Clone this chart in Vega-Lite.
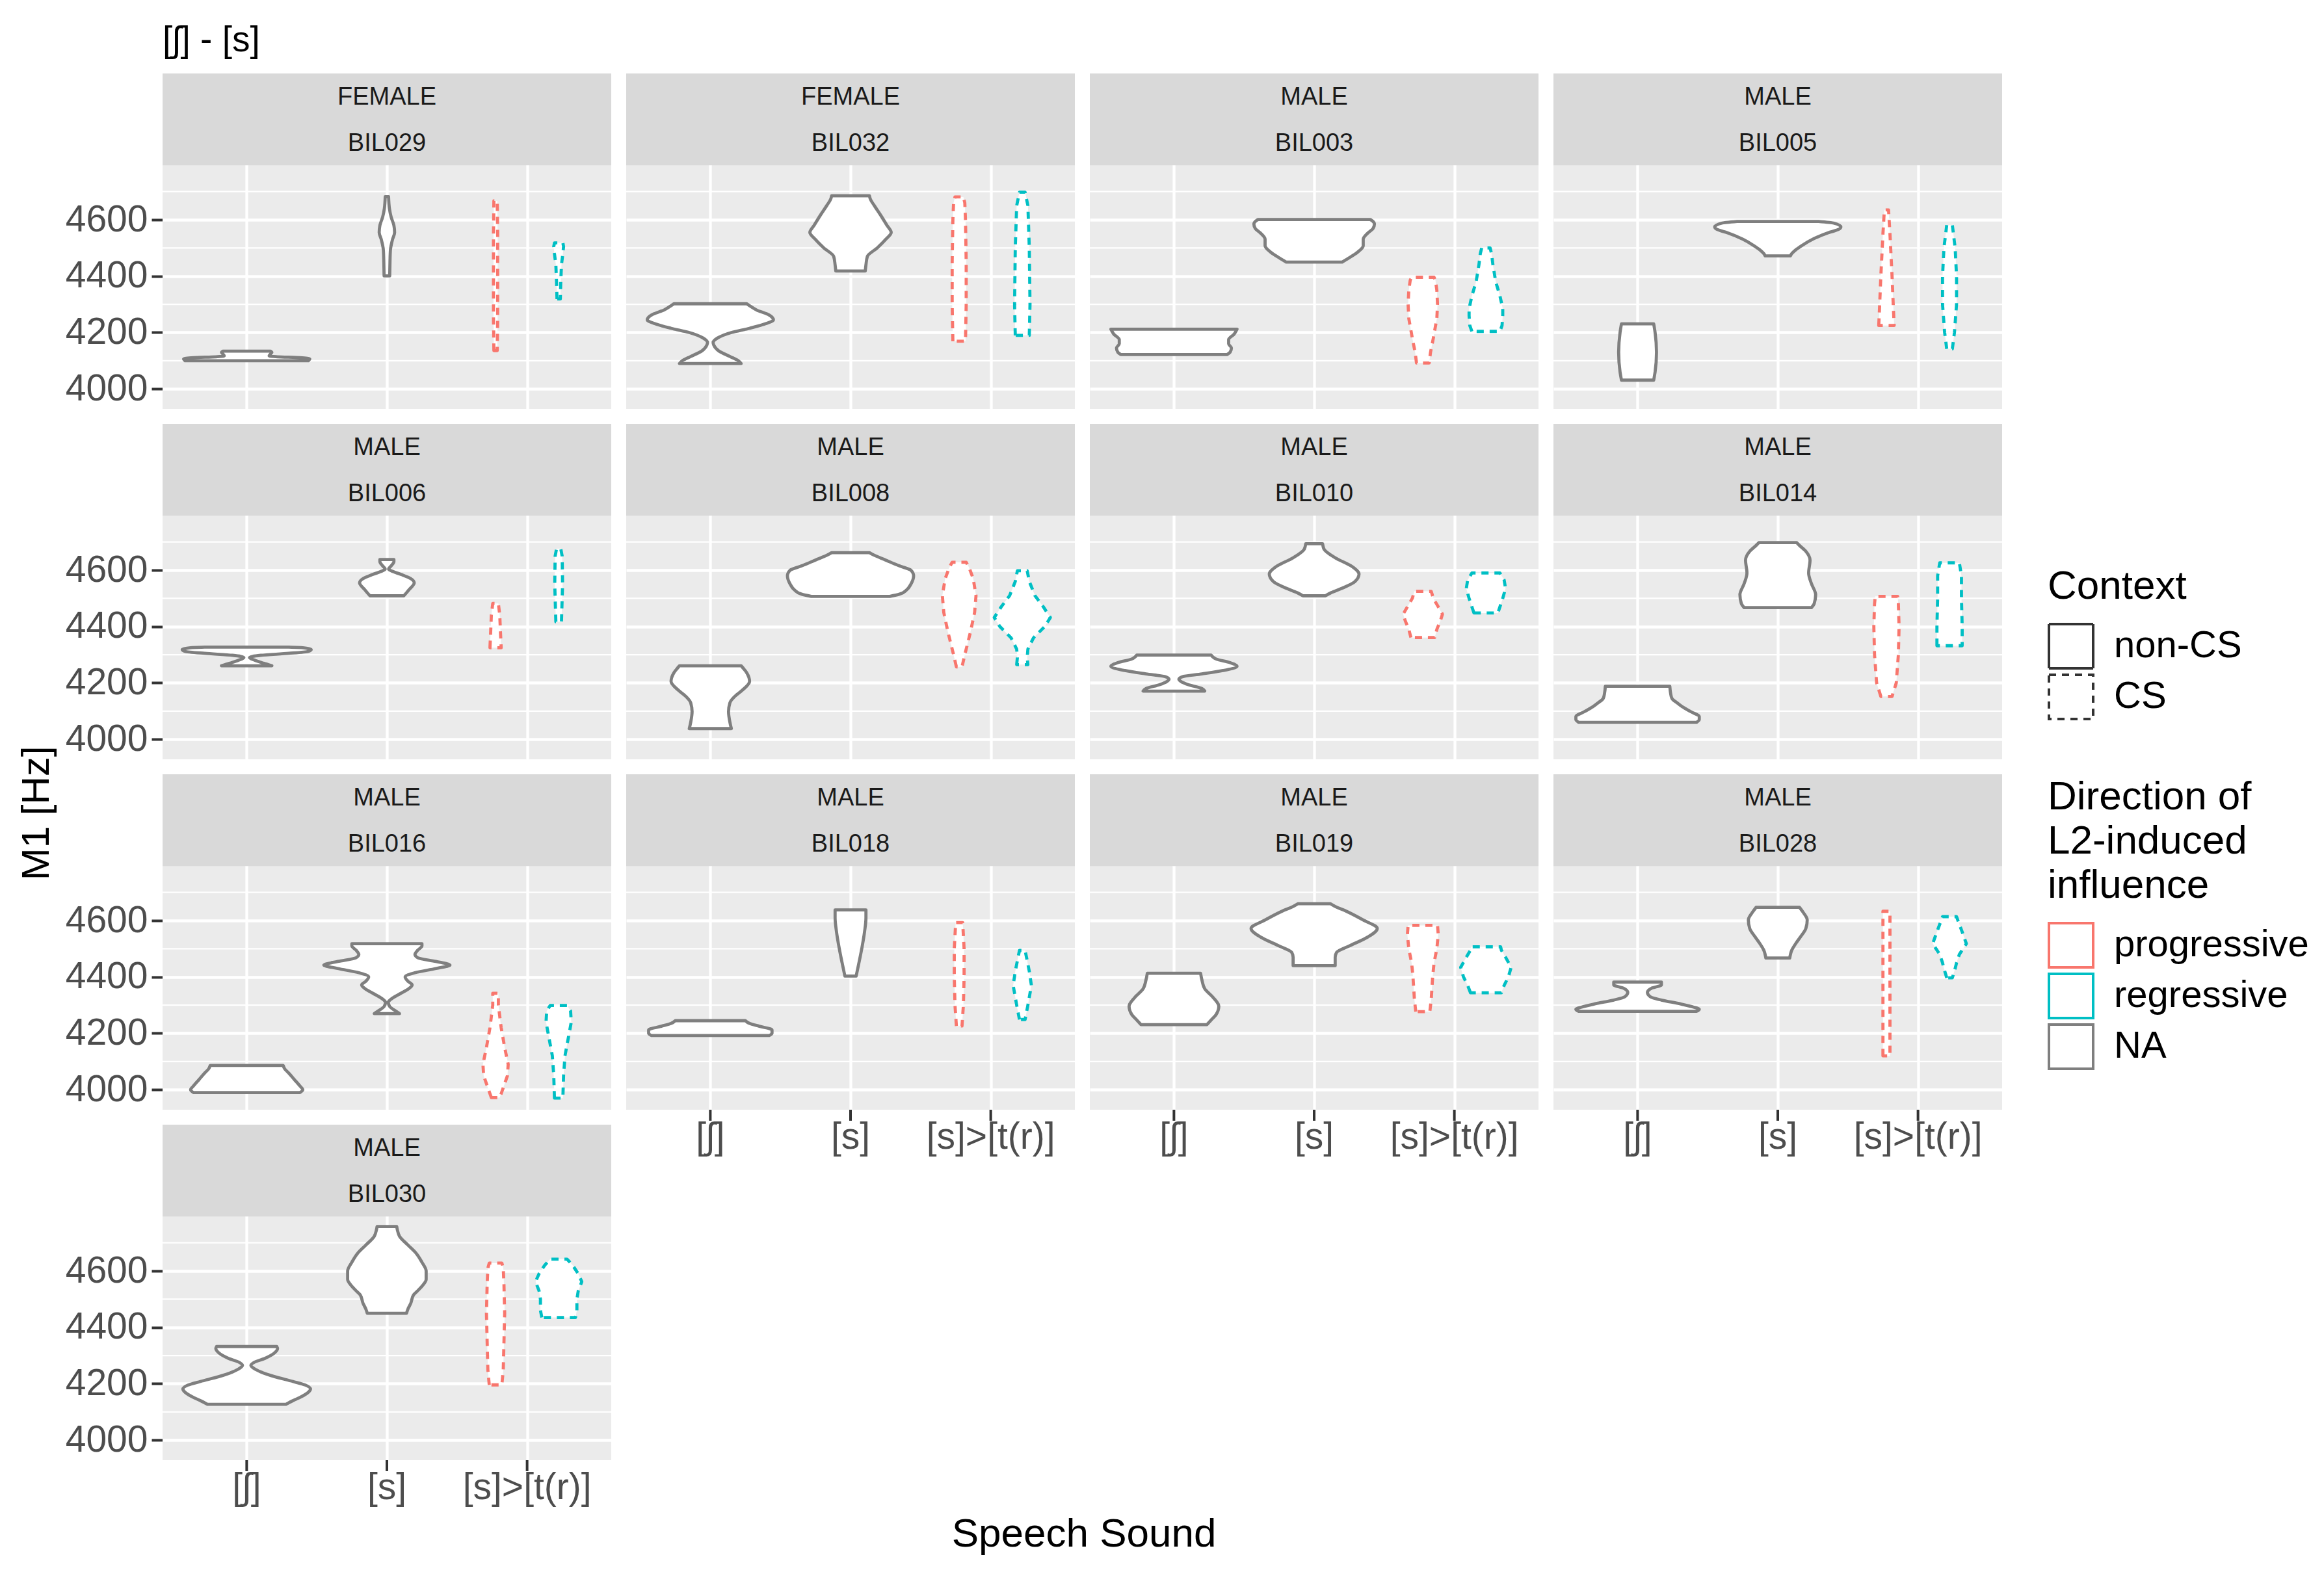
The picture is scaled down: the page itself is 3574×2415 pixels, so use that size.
{
"$schema":"https://vega.github.io/schema/vega-lite/v6.json",
"padding":{"left":27,"top":35,"right":5,"bottom":5},
"title":{"text":"Speech Sound","orient":"bottom","anchor":"middle","fontSize":62,"fontWeight":"normal","color":"black","offset":13,"dx":-122},
"data":{"values":[
{"k":"strip","s":"BIL029","g":"FEMALE"},{"k":"strip","s":"BIL032","g":"FEMALE"},{"k":"strip","s":"BIL003","g":"MALE"},{"k":"strip","s":"BIL005","g":"MALE"},{"k":"strip","s":"BIL006","g":"MALE"},{"k":"strip","s":"BIL008","g":"MALE"},{"k":"strip","s":"BIL010","g":"MALE"},{"k":"strip","s":"BIL014","g":"MALE"},{"k":"strip","s":"BIL016","g":"MALE"},{"k":"strip","s":"BIL018","g":"MALE"},{"k":"strip","s":"BIL019","g":"MALE"},{"k":"strip","s":"BIL028","g":"MALE"},{"k":"strip","s":"BIL030","g":"MALE"},
{"k":"ax","s":"BIL018","t":1,"lab":"[ʃ]"},{"k":"ax","s":"BIL018","t":2,"lab":"[s]"},{"k":"ax","s":"BIL018","t":3,"lab":"[s]>[t(r)]"},
{"k":"ax","s":"BIL019","t":1,"lab":"[ʃ]"},{"k":"ax","s":"BIL019","t":2,"lab":"[s]"},{"k":"ax","s":"BIL019","t":3,"lab":"[s]>[t(r)]"},
{"k":"ax","s":"BIL028","t":1,"lab":"[ʃ]"},{"k":"ax","s":"BIL028","t":2,"lab":"[s]"},{"k":"ax","s":"BIL028","t":3,"lab":"[s]>[t(r)]"},
{"k":"ax","s":"BIL030","t":1,"lab":"[ʃ]"},{"k":"ax","s":"BIL030","t":2,"lab":"[s]"},{"k":"ax","s":"BIL030","t":3,"lab":"[s]>[t(r)]"},
{"k":"v","s":"BIL029","p":"[ʃ]","d":"NA","c":"non-CS","y":4100,"w":0.44},
{"k":"v","s":"BIL029","p":"[ʃ]","d":"NA","c":"non-CS","y":4106,"w":0.45},
{"k":"v","s":"BIL029","p":"[ʃ]","d":"NA","c":"non-CS","y":4111,"w":0.38},
{"k":"v","s":"BIL029","p":"[ʃ]","d":"NA","c":"non-CS","y":4114,"w":0.22},
{"k":"v","s":"BIL029","p":"[ʃ]","d":"NA","c":"non-CS","y":4117,"w":0.16},
{"k":"v","s":"BIL029","p":"[ʃ]","d":"NA","c":"non-CS","y":4124,"w":0.17},
{"k":"v","s":"BIL029","p":"[ʃ]","d":"NA","c":"non-CS","y":4130,"w":0.18},
{"k":"v","s":"BIL029","p":"[ʃ]","d":"NA","c":"non-CS","y":4134,"w":0.17},
{"k":"v","s":"BIL029","p":"[s]","d":"NA","c":"non-CS","y":4401,"w":0.02},
{"k":"v","s":"BIL029","p":"[s]","d":"NA","c":"non-CS","y":4450,"w":0.022},
{"k":"v","s":"BIL029","p":"[s]","d":"NA","c":"non-CS","y":4492,"w":0.025},
{"k":"v","s":"BIL029","p":"[s]","d":"NA","c":"non-CS","y":4530,"w":0.04},
{"k":"v","s":"BIL029","p":"[s]","d":"NA","c":"non-CS","y":4555,"w":0.055},
{"k":"v","s":"BIL029","p":"[s]","d":"NA","c":"non-CS","y":4580,"w":0.05},
{"k":"v","s":"BIL029","p":"[s]","d":"NA","c":"non-CS","y":4610,"w":0.03},
{"k":"v","s":"BIL029","p":"[s]","d":"NA","c":"non-CS","y":4640,"w":0.018},
{"k":"v","s":"BIL029","p":"[s]","d":"NA","c":"non-CS","y":4682,"w":0.012},
{"k":"v","s":"BIL029","p":"[s]>[t(r)]","d":"progressive","c":"CS","y":4136,"w":0.012},
{"k":"v","s":"BIL029","p":"[s]>[t(r)]","d":"progressive","c":"CS","y":4250,"w":0.015},
{"k":"v","s":"BIL029","p":"[s]>[t(r)]","d":"progressive","c":"CS","y":4400,"w":0.015},
{"k":"v","s":"BIL029","p":"[s]>[t(r)]","d":"progressive","c":"CS","y":4550,"w":0.015},
{"k":"v","s":"BIL029","p":"[s]>[t(r)]","d":"progressive","c":"CS","y":4667,"w":0.012},
{"k":"v","s":"BIL029","p":"[s]>[t(r)]","d":"regressive","c":"CS","y":4319,"w":0.012},
{"k":"v","s":"BIL029","p":"[s]>[t(r)]","d":"regressive","c":"CS","y":4380,"w":0.015},
{"k":"v","s":"BIL029","p":"[s]>[t(r)]","d":"regressive","c":"CS","y":4440,"w":0.02},
{"k":"v","s":"BIL029","p":"[s]>[t(r)]","d":"regressive","c":"CS","y":4480,"w":0.03},
{"k":"v","s":"BIL029","p":"[s]>[t(r)]","d":"regressive","c":"CS","y":4505,"w":0.035},
{"k":"v","s":"BIL029","p":"[s]>[t(r)]","d":"regressive","c":"CS","y":4518,"w":0.03},
{"k":"v","s":"BIL032","p":"[ʃ]","d":"NA","c":"non-CS","y":4090,"w":0.22},
{"k":"v","s":"BIL032","p":"[ʃ]","d":"NA","c":"non-CS","y":4100,"w":0.2},
{"k":"v","s":"BIL032","p":"[ʃ]","d":"NA","c":"non-CS","y":4115,"w":0.14},
{"k":"v","s":"BIL032","p":"[ʃ]","d":"NA","c":"non-CS","y":4135,"w":0.06},
{"k":"v","s":"BIL032","p":"[ʃ]","d":"NA","c":"non-CS","y":4155,"w":0.025},
{"k":"v","s":"BIL032","p":"[ʃ]","d":"NA","c":"non-CS","y":4165,"w":0.02},
{"k":"v","s":"BIL032","p":"[ʃ]","d":"NA","c":"non-CS","y":4180,"w":0.05},
{"k":"v","s":"BIL032","p":"[ʃ]","d":"NA","c":"non-CS","y":4200,"w":0.15},
{"k":"v","s":"BIL032","p":"[ʃ]","d":"NA","c":"non-CS","y":4215,"w":0.28},
{"k":"v","s":"BIL032","p":"[ʃ]","d":"NA","c":"non-CS","y":4232,"w":0.4},
{"k":"v","s":"BIL032","p":"[ʃ]","d":"NA","c":"non-CS","y":4245,"w":0.45},
{"k":"v","s":"BIL032","p":"[ʃ]","d":"NA","c":"non-CS","y":4262,"w":0.42},
{"k":"v","s":"BIL032","p":"[ʃ]","d":"NA","c":"non-CS","y":4280,"w":0.33},
{"k":"v","s":"BIL032","p":"[ʃ]","d":"NA","c":"non-CS","y":4295,"w":0.28},
{"k":"v","s":"BIL032","p":"[ʃ]","d":"NA","c":"non-CS","y":4302,"w":0.26},
{"k":"v","s":"BIL032","p":"[s]","d":"NA","c":"non-CS","y":4418,"w":0.105},
{"k":"v","s":"BIL032","p":"[s]","d":"NA","c":"non-CS","y":4440,"w":0.11},
{"k":"v","s":"BIL032","p":"[s]","d":"NA","c":"non-CS","y":4470,"w":0.12},
{"k":"v","s":"BIL032","p":"[s]","d":"NA","c":"non-CS","y":4500,"w":0.19},
{"k":"v","s":"BIL032","p":"[s]","d":"NA","c":"non-CS","y":4530,"w":0.25},
{"k":"v","s":"BIL032","p":"[s]","d":"NA","c":"non-CS","y":4555,"w":0.29},
{"k":"v","s":"BIL032","p":"[s]","d":"NA","c":"non-CS","y":4580,"w":0.26},
{"k":"v","s":"BIL032","p":"[s]","d":"NA","c":"non-CS","y":4620,"w":0.21},
{"k":"v","s":"BIL032","p":"[s]","d":"NA","c":"non-CS","y":4650,"w":0.17},
{"k":"v","s":"BIL032","p":"[s]","d":"NA","c":"non-CS","y":4675,"w":0.14},
{"k":"v","s":"BIL032","p":"[s]","d":"NA","c":"non-CS","y":4685,"w":0.135},
{"k":"v","s":"BIL032","p":"[s]>[t(r)]","d":"progressive","c":"CS","y":4169,"w":0.045},
{"k":"v","s":"BIL032","p":"[s]>[t(r)]","d":"progressive","c":"CS","y":4300,"w":0.05},
{"k":"v","s":"BIL032","p":"[s]>[t(r)]","d":"progressive","c":"CS","y":4450,"w":0.05},
{"k":"v","s":"BIL032","p":"[s]>[t(r)]","d":"progressive","c":"CS","y":4600,"w":0.045},
{"k":"v","s":"BIL032","p":"[s]>[t(r)]","d":"progressive","c":"CS","y":4660,"w":0.04},
{"k":"v","s":"BIL032","p":"[s]>[t(r)]","d":"progressive","c":"CS","y":4681,"w":0.03},
{"k":"v","s":"BIL032","p":"[s]>[t(r)]","d":"regressive","c":"CS","y":4190,"w":0.05},
{"k":"v","s":"BIL032","p":"[s]>[t(r)]","d":"regressive","c":"CS","y":4300,"w":0.055},
{"k":"v","s":"BIL032","p":"[s]>[t(r)]","d":"regressive","c":"CS","y":4500,"w":0.05},
{"k":"v","s":"BIL032","p":"[s]>[t(r)]","d":"regressive","c":"CS","y":4650,"w":0.04},
{"k":"v","s":"BIL032","p":"[s]>[t(r)]","d":"regressive","c":"CS","y":4698,"w":0.02},
{"k":"v","s":"BIL003","p":"[ʃ]","d":"NA","c":"non-CS","y":4122,"w":0.38},
{"k":"v","s":"BIL003","p":"[ʃ]","d":"NA","c":"non-CS","y":4130,"w":0.4},
{"k":"v","s":"BIL003","p":"[ʃ]","d":"NA","c":"non-CS","y":4145,"w":0.41},
{"k":"v","s":"BIL003","p":"[ʃ]","d":"NA","c":"non-CS","y":4160,"w":0.39},
{"k":"v","s":"BIL003","p":"[ʃ]","d":"NA","c":"non-CS","y":4175,"w":0.39},
{"k":"v","s":"BIL003","p":"[ʃ]","d":"NA","c":"non-CS","y":4195,"w":0.43},
{"k":"v","s":"BIL003","p":"[ʃ]","d":"NA","c":"non-CS","y":4212,"w":0.45},
{"k":"v","s":"BIL003","p":"[s]","d":"NA","c":"non-CS","y":4450,"w":0.2},
{"k":"v","s":"BIL003","p":"[s]","d":"NA","c":"non-CS","y":4465,"w":0.25},
{"k":"v","s":"BIL003","p":"[s]","d":"NA","c":"non-CS","y":4485,"w":0.31},
{"k":"v","s":"BIL003","p":"[s]","d":"NA","c":"non-CS","y":4508,"w":0.35},
{"k":"v","s":"BIL003","p":"[s]","d":"NA","c":"non-CS","y":4531,"w":0.35},
{"k":"v","s":"BIL003","p":"[s]","d":"NA","c":"non-CS","y":4554,"w":0.385},
{"k":"v","s":"BIL003","p":"[s]","d":"NA","c":"non-CS","y":4569,"w":0.42},
{"k":"v","s":"BIL003","p":"[s]","d":"NA","c":"non-CS","y":4585,"w":0.43},
{"k":"v","s":"BIL003","p":"[s]","d":"NA","c":"non-CS","y":4598,"w":0.41},
{"k":"v","s":"BIL003","p":"[s]","d":"NA","c":"non-CS","y":4601,"w":0.4},
{"k":"v","s":"BIL003","p":"[s]>[t(r)]","d":"progressive","c":"CS","y":4092,"w":0.045},
{"k":"v","s":"BIL003","p":"[s]>[t(r)]","d":"progressive","c":"CS","y":4130,"w":0.055},
{"k":"v","s":"BIL003","p":"[s]>[t(r)]","d":"progressive","c":"CS","y":4180,"w":0.075},
{"k":"v","s":"BIL003","p":"[s]>[t(r)]","d":"progressive","c":"CS","y":4250,"w":0.1},
{"k":"v","s":"BIL003","p":"[s]>[t(r)]","d":"progressive","c":"CS","y":4300,"w":0.105},
{"k":"v","s":"BIL003","p":"[s]>[t(r)]","d":"progressive","c":"CS","y":4350,"w":0.1},
{"k":"v","s":"BIL003","p":"[s]>[t(r)]","d":"progressive","c":"CS","y":4385,"w":0.09},
{"k":"v","s":"BIL003","p":"[s]>[t(r)]","d":"progressive","c":"CS","y":4396,"w":0.08},
{"k":"v","s":"BIL003","p":"[s]>[t(r)]","d":"regressive","c":"CS","y":4204,"w":0.1},
{"k":"v","s":"BIL003","p":"[s]>[t(r)]","d":"regressive","c":"CS","y":4225,"w":0.115},
{"k":"v","s":"BIL003","p":"[s]>[t(r)]","d":"regressive","c":"CS","y":4260,"w":0.12},
{"k":"v","s":"BIL003","p":"[s]>[t(r)]","d":"regressive","c":"CS","y":4285,"w":0.12},
{"k":"v","s":"BIL003","p":"[s]>[t(r)]","d":"regressive","c":"CS","y":4330,"w":0.1},
{"k":"v","s":"BIL003","p":"[s]>[t(r)]","d":"regressive","c":"CS","y":4380,"w":0.07},
{"k":"v","s":"BIL003","p":"[s]>[t(r)]","d":"regressive","c":"CS","y":4440,"w":0.05},
{"k":"v","s":"BIL003","p":"[s]>[t(r)]","d":"regressive","c":"CS","y":4480,"w":0.04},
{"k":"v","s":"BIL003","p":"[s]>[t(r)]","d":"regressive","c":"CS","y":4500,"w":0.03},
{"k":"v","s":"BIL005","p":"[ʃ]","d":"NA","c":"non-CS","y":4031,"w":0.115},
{"k":"v","s":"BIL005","p":"[ʃ]","d":"NA","c":"non-CS","y":4060,"w":0.125},
{"k":"v","s":"BIL005","p":"[ʃ]","d":"NA","c":"non-CS","y":4130,"w":0.135},
{"k":"v","s":"BIL005","p":"[ʃ]","d":"NA","c":"non-CS","y":4200,"w":0.125},
{"k":"v","s":"BIL005","p":"[ʃ]","d":"NA","c":"non-CS","y":4231,"w":0.115},
{"k":"v","s":"BIL005","p":"[s]","d":"NA","c":"non-CS","y":4472,"w":0.09},
{"k":"v","s":"BIL005","p":"[s]","d":"NA","c":"non-CS","y":4480,"w":0.1},
{"k":"v","s":"BIL005","p":"[s]","d":"NA","c":"non-CS","y":4492,"w":0.125},
{"k":"v","s":"BIL005","p":"[s]","d":"NA","c":"non-CS","y":4508,"w":0.17},
{"k":"v","s":"BIL005","p":"[s]","d":"NA","c":"non-CS","y":4531,"w":0.25},
{"k":"v","s":"BIL005","p":"[s]","d":"NA","c":"non-CS","y":4554,"w":0.36},
{"k":"v","s":"BIL005","p":"[s]","d":"NA","c":"non-CS","y":4565,"w":0.43},
{"k":"v","s":"BIL005","p":"[s]","d":"NA","c":"non-CS","y":4575,"w":0.45},
{"k":"v","s":"BIL005","p":"[s]","d":"NA","c":"non-CS","y":4588,"w":0.4},
{"k":"v","s":"BIL005","p":"[s]","d":"NA","c":"non-CS","y":4594,"w":0.29},
{"k":"v","s":"BIL005","p":"[s]>[t(r)]","d":"progressive","c":"CS","y":4225,"w":0.055},
{"k":"v","s":"BIL005","p":"[s]>[t(r)]","d":"progressive","c":"CS","y":4280,"w":0.05},
{"k":"v","s":"BIL005","p":"[s]>[t(r)]","d":"progressive","c":"CS","y":4400,"w":0.04},
{"k":"v","s":"BIL005","p":"[s]>[t(r)]","d":"progressive","c":"CS","y":4550,"w":0.025},
{"k":"v","s":"BIL005","p":"[s]>[t(r)]","d":"progressive","c":"CS","y":4635,"w":0.015},
{"k":"v","s":"BIL005","p":"[s]>[t(r)]","d":"regressive","c":"CS","y":4142,"w":0.02},
{"k":"v","s":"BIL005","p":"[s]>[t(r)]","d":"regressive","c":"CS","y":4200,"w":0.035},
{"k":"v","s":"BIL005","p":"[s]>[t(r)]","d":"regressive","c":"CS","y":4300,"w":0.05},
{"k":"v","s":"BIL005","p":"[s]>[t(r)]","d":"regressive","c":"CS","y":4400,"w":0.05},
{"k":"v","s":"BIL005","p":"[s]>[t(r)]","d":"regressive","c":"CS","y":4500,"w":0.04},
{"k":"v","s":"BIL005","p":"[s]>[t(r)]","d":"regressive","c":"CS","y":4581,"w":0.02},
{"k":"v","s":"BIL006","p":"[ʃ]","d":"NA","c":"non-CS","y":4261,"w":0.18},
{"k":"v","s":"BIL006","p":"[ʃ]","d":"NA","c":"non-CS","y":4270,"w":0.12},
{"k":"v","s":"BIL006","p":"[ʃ]","d":"NA","c":"non-CS","y":4280,"w":0.06},
{"k":"v","s":"BIL006","p":"[ʃ]","d":"NA","c":"non-CS","y":4290,"w":0.02},
{"k":"v","s":"BIL006","p":"[ʃ]","d":"NA","c":"non-CS","y":4298,"w":0.1},
{"k":"v","s":"BIL006","p":"[ʃ]","d":"NA","c":"non-CS","y":4305,"w":0.3},
{"k":"v","s":"BIL006","p":"[ʃ]","d":"NA","c":"non-CS","y":4312,"w":0.44},
{"k":"v","s":"BIL006","p":"[ʃ]","d":"NA","c":"non-CS","y":4318,"w":0.46},
{"k":"v","s":"BIL006","p":"[ʃ]","d":"NA","c":"non-CS","y":4325,"w":0.4},
{"k":"v","s":"BIL006","p":"[ʃ]","d":"NA","c":"non-CS","y":4327,"w":0.3},
{"k":"v","s":"BIL006","p":"[s]","d":"NA","c":"non-CS","y":4509,"w":0.12},
{"k":"v","s":"BIL006","p":"[s]","d":"NA","c":"non-CS","y":4520,"w":0.14},
{"k":"v","s":"BIL006","p":"[s]","d":"NA","c":"non-CS","y":4532,"w":0.16},
{"k":"v","s":"BIL006","p":"[s]","d":"NA","c":"non-CS","y":4555,"w":0.195},
{"k":"v","s":"BIL006","p":"[s]","d":"NA","c":"non-CS","y":4570,"w":0.17},
{"k":"v","s":"BIL006","p":"[s]","d":"NA","c":"non-CS","y":4585,"w":0.1},
{"k":"v","s":"BIL006","p":"[s]","d":"NA","c":"non-CS","y":4598,"w":0.03},
{"k":"v","s":"BIL006","p":"[s]","d":"NA","c":"non-CS","y":4604,"w":0.012},
{"k":"v","s":"BIL006","p":"[s]","d":"NA","c":"non-CS","y":4615,"w":0.03},
{"k":"v","s":"BIL006","p":"[s]","d":"NA","c":"non-CS","y":4630,"w":0.05},
{"k":"v","s":"BIL006","p":"[s]","d":"NA","c":"non-CS","y":4638,"w":0.05},
{"k":"v","s":"BIL006","p":"[s]>[t(r)]","d":"progressive","c":"CS","y":4325,"w":0.04},
{"k":"v","s":"BIL006","p":"[s]>[t(r)]","d":"progressive","c":"CS","y":4380,"w":0.035},
{"k":"v","s":"BIL006","p":"[s]>[t(r)]","d":"progressive","c":"CS","y":4440,"w":0.03},
{"k":"v","s":"BIL006","p":"[s]>[t(r)]","d":"progressive","c":"CS","y":4482,"w":0.02},
{"k":"v","s":"BIL006","p":"[s]>[t(r)]","d":"regressive","c":"CS","y":4417,"w":0.02},
{"k":"v","s":"BIL006","p":"[s]>[t(r)]","d":"regressive","c":"CS","y":4550,"w":0.028},
{"k":"v","s":"BIL006","p":"[s]>[t(r)]","d":"regressive","c":"CS","y":4650,"w":0.025},
{"k":"v","s":"BIL006","p":"[s]>[t(r)]","d":"regressive","c":"CS","y":4676,"w":0.015},
{"k":"v","s":"BIL008","p":"[ʃ]","d":"NA","c":"non-CS","y":4038,"w":0.15},
{"k":"v","s":"BIL008","p":"[ʃ]","d":"NA","c":"non-CS","y":4060,"w":0.14},
{"k":"v","s":"BIL008","p":"[ʃ]","d":"NA","c":"non-CS","y":4098,"w":0.13},
{"k":"v","s":"BIL008","p":"[ʃ]","d":"NA","c":"non-CS","y":4130,"w":0.14},
{"k":"v","s":"BIL008","p":"[ʃ]","d":"NA","c":"non-CS","y":4150,"w":0.17},
{"k":"v","s":"BIL008","p":"[ʃ]","d":"NA","c":"non-CS","y":4175,"w":0.23},
{"k":"v","s":"BIL008","p":"[ʃ]","d":"NA","c":"non-CS","y":4205,"w":0.28},
{"k":"v","s":"BIL008","p":"[ʃ]","d":"NA","c":"non-CS","y":4236,"w":0.26},
{"k":"v","s":"BIL008","p":"[ʃ]","d":"NA","c":"non-CS","y":4255,"w":0.23},
{"k":"v","s":"BIL008","p":"[ʃ]","d":"NA","c":"non-CS","y":4261,"w":0.22},
{"k":"v","s":"BIL008","p":"[s]","d":"NA","c":"non-CS","y":4507,"w":0.28},
{"k":"v","s":"BIL008","p":"[s]","d":"NA","c":"non-CS","y":4515,"w":0.35},
{"k":"v","s":"BIL008","p":"[s]","d":"NA","c":"non-CS","y":4530,"w":0.4},
{"k":"v","s":"BIL008","p":"[s]","d":"NA","c":"non-CS","y":4550,"w":0.43},
{"k":"v","s":"BIL008","p":"[s]","d":"NA","c":"non-CS","y":4580,"w":0.45},
{"k":"v","s":"BIL008","p":"[s]","d":"NA","c":"non-CS","y":4600,"w":0.43},
{"k":"v","s":"BIL008","p":"[s]","d":"NA","c":"non-CS","y":4615,"w":0.35},
{"k":"v","s":"BIL008","p":"[s]","d":"NA","c":"non-CS","y":4636,"w":0.25},
{"k":"v","s":"BIL008","p":"[s]","d":"NA","c":"non-CS","y":4655,"w":0.16},
{"k":"v","s":"BIL008","p":"[s]","d":"NA","c":"non-CS","y":4662,"w":0.135},
{"k":"v","s":"BIL008","p":"[s]>[t(r)]","d":"progressive","c":"CS","y":4257,"w":0.02},
{"k":"v","s":"BIL008","p":"[s]>[t(r)]","d":"progressive","c":"CS","y":4300,"w":0.04},
{"k":"v","s":"BIL008","p":"[s]>[t(r)]","d":"progressive","c":"CS","y":4380,"w":0.08},
{"k":"v","s":"BIL008","p":"[s]>[t(r)]","d":"progressive","c":"CS","y":4450,"w":0.11},
{"k":"v","s":"BIL008","p":"[s]>[t(r)]","d":"progressive","c":"CS","y":4510,"w":0.12},
{"k":"v","s":"BIL008","p":"[s]>[t(r)]","d":"progressive","c":"CS","y":4570,"w":0.1},
{"k":"v","s":"BIL008","p":"[s]>[t(r)]","d":"progressive","c":"CS","y":4610,"w":0.07},
{"k":"v","s":"BIL008","p":"[s]>[t(r)]","d":"progressive","c":"CS","y":4628,"w":0.05},
{"k":"v","s":"BIL008","p":"[s]>[t(r)]","d":"regressive","c":"CS","y":4265,"w":0.04},
{"k":"v","s":"BIL008","p":"[s]>[t(r)]","d":"regressive","c":"CS","y":4290,"w":0.035},
{"k":"v","s":"BIL008","p":"[s]>[t(r)]","d":"regressive","c":"CS","y":4320,"w":0.04},
{"k":"v","s":"BIL008","p":"[s]>[t(r)]","d":"regressive","c":"CS","y":4360,"w":0.08},
{"k":"v","s":"BIL008","p":"[s]>[t(r)]","d":"regressive","c":"CS","y":4400,"w":0.16},
{"k":"v","s":"BIL008","p":"[s]>[t(r)]","d":"regressive","c":"CS","y":4432,"w":0.2},
{"k":"v","s":"BIL008","p":"[s]>[t(r)]","d":"regressive","c":"CS","y":4470,"w":0.15},
{"k":"v","s":"BIL008","p":"[s]>[t(r)]","d":"regressive","c":"CS","y":4510,"w":0.09},
{"k":"v","s":"BIL008","p":"[s]>[t(r)]","d":"regressive","c":"CS","y":4560,"w":0.05},
{"k":"v","s":"BIL008","p":"[s]>[t(r)]","d":"regressive","c":"CS","y":4598,"w":0.035},
{"k":"v","s":"BIL010","p":"[ʃ]","d":"NA","c":"non-CS","y":4171,"w":0.22},
{"k":"v","s":"BIL010","p":"[ʃ]","d":"NA","c":"non-CS","y":4180,"w":0.2},
{"k":"v","s":"BIL010","p":"[ʃ]","d":"NA","c":"non-CS","y":4194,"w":0.1},
{"k":"v","s":"BIL010","p":"[ʃ]","d":"NA","c":"non-CS","y":4205,"w":0.05},
{"k":"v","s":"BIL010","p":"[ʃ]","d":"NA","c":"non-CS","y":4213,"w":0.035},
{"k":"v","s":"BIL010","p":"[ʃ]","d":"NA","c":"non-CS","y":4222,"w":0.06},
{"k":"v","s":"BIL010","p":"[ʃ]","d":"NA","c":"non-CS","y":4232,"w":0.2},
{"k":"v","s":"BIL010","p":"[ʃ]","d":"NA","c":"non-CS","y":4244,"w":0.35},
{"k":"v","s":"BIL010","p":"[ʃ]","d":"NA","c":"non-CS","y":4259,"w":0.45},
{"k":"v","s":"BIL010","p":"[ʃ]","d":"NA","c":"non-CS","y":4272,"w":0.4},
{"k":"v","s":"BIL010","p":"[ʃ]","d":"NA","c":"non-CS","y":4285,"w":0.3},
{"k":"v","s":"BIL010","p":"[ʃ]","d":"NA","c":"non-CS","y":4299,"w":0.265},
{"k":"v","s":"BIL010","p":"[s]","d":"NA","c":"non-CS","y":4509,"w":0.08},
{"k":"v","s":"BIL010","p":"[s]","d":"NA","c":"non-CS","y":4520,"w":0.12},
{"k":"v","s":"BIL010","p":"[s]","d":"NA","c":"non-CS","y":4536,"w":0.2},
{"k":"v","s":"BIL010","p":"[s]","d":"NA","c":"non-CS","y":4559,"w":0.29},
{"k":"v","s":"BIL010","p":"[s]","d":"NA","c":"non-CS","y":4586,"w":0.32},
{"k":"v","s":"BIL010","p":"[s]","d":"NA","c":"non-CS","y":4613,"w":0.27},
{"k":"v","s":"BIL010","p":"[s]","d":"NA","c":"non-CS","y":4644,"w":0.15},
{"k":"v","s":"BIL010","p":"[s]","d":"NA","c":"non-CS","y":4675,"w":0.07},
{"k":"v","s":"BIL010","p":"[s]","d":"NA","c":"non-CS","y":4694,"w":0.06},
{"k":"v","s":"BIL010","p":"[s]>[t(r)]","d":"progressive","c":"CS","y":4361,"w":0.085},
{"k":"v","s":"BIL010","p":"[s]>[t(r)]","d":"progressive","c":"CS","y":4390,"w":0.1},
{"k":"v","s":"BIL010","p":"[s]>[t(r)]","d":"progressive","c":"CS","y":4420,"w":0.125},
{"k":"v","s":"BIL010","p":"[s]>[t(r)]","d":"progressive","c":"CS","y":4444,"w":0.14},
{"k":"v","s":"BIL010","p":"[s]>[t(r)]","d":"progressive","c":"CS","y":4470,"w":0.11},
{"k":"v","s":"BIL010","p":"[s]>[t(r)]","d":"progressive","c":"CS","y":4500,"w":0.075},
{"k":"v","s":"BIL010","p":"[s]>[t(r)]","d":"progressive","c":"CS","y":4525,"w":0.06},
{"k":"v","s":"BIL010","p":"[s]>[t(r)]","d":"regressive","c":"CS","y":4448,"w":0.085},
{"k":"v","s":"BIL010","p":"[s]>[t(r)]","d":"regressive","c":"CS","y":4470,"w":0.1},
{"k":"v","s":"BIL010","p":"[s]>[t(r)]","d":"regressive","c":"CS","y":4500,"w":0.12},
{"k":"v","s":"BIL010","p":"[s]>[t(r)]","d":"regressive","c":"CS","y":4535,"w":0.14},
{"k":"v","s":"BIL010","p":"[s]>[t(r)]","d":"regressive","c":"CS","y":4565,"w":0.13},
{"k":"v","s":"BIL010","p":"[s]>[t(r)]","d":"regressive","c":"CS","y":4590,"w":0.1},
{"k":"v","s":"BIL014","p":"[ʃ]","d":"NA","c":"non-CS","y":4060,"w":0.42},
{"k":"v","s":"BIL014","p":"[ʃ]","d":"NA","c":"non-CS","y":4070,"w":0.44},
{"k":"v","s":"BIL014","p":"[ʃ]","d":"NA","c":"non-CS","y":4080,"w":0.44},
{"k":"v","s":"BIL014","p":"[ʃ]","d":"NA","c":"non-CS","y":4098,"w":0.38},
{"k":"v","s":"BIL014","p":"[ʃ]","d":"NA","c":"non-CS","y":4115,"w":0.32},
{"k":"v","s":"BIL014","p":"[ʃ]","d":"NA","c":"non-CS","y":4130,"w":0.28},
{"k":"v","s":"BIL014","p":"[ʃ]","d":"NA","c":"non-CS","y":4145,"w":0.245},
{"k":"v","s":"BIL014","p":"[ʃ]","d":"NA","c":"non-CS","y":4165,"w":0.235},
{"k":"v","s":"BIL014","p":"[ʃ]","d":"NA","c":"non-CS","y":4188,"w":0.23},
{"k":"v","s":"BIL014","p":"[s]","d":"NA","c":"non-CS","y":4467,"w":0.24},
{"k":"v","s":"BIL014","p":"[s]","d":"NA","c":"non-CS","y":4482,"w":0.26},
{"k":"v","s":"BIL014","p":"[s]","d":"NA","c":"non-CS","y":4513,"w":0.27},
{"k":"v","s":"BIL014","p":"[s]","d":"NA","c":"non-CS","y":4552,"w":0.24},
{"k":"v","s":"BIL014","p":"[s]","d":"NA","c":"non-CS","y":4590,"w":0.22},
{"k":"v","s":"BIL014","p":"[s]","d":"NA","c":"non-CS","y":4636,"w":0.23},
{"k":"v","s":"BIL014","p":"[s]","d":"NA","c":"non-CS","y":4667,"w":0.2},
{"k":"v","s":"BIL014","p":"[s]","d":"NA","c":"non-CS","y":4690,"w":0.15},
{"k":"v","s":"BIL014","p":"[s]","d":"NA","c":"non-CS","y":4698,"w":0.135},
{"k":"v","s":"BIL014","p":"[s]>[t(r)]","d":"progressive","c":"CS","y":4152,"w":0.04},
{"k":"v","s":"BIL014","p":"[s]>[t(r)]","d":"progressive","c":"CS","y":4200,"w":0.07},
{"k":"v","s":"BIL014","p":"[s]>[t(r)]","d":"progressive","c":"CS","y":4300,"w":0.085},
{"k":"v","s":"BIL014","p":"[s]>[t(r)]","d":"progressive","c":"CS","y":4400,"w":0.09},
{"k":"v","s":"BIL014","p":"[s]>[t(r)]","d":"progressive","c":"CS","y":4480,"w":0.085},
{"k":"v","s":"BIL014","p":"[s]>[t(r)]","d":"progressive","c":"CS","y":4507,"w":0.08},
{"k":"v","s":"BIL014","p":"[s]>[t(r)]","d":"regressive","c":"CS","y":4332,"w":0.09},
{"k":"v","s":"BIL014","p":"[s]>[t(r)]","d":"regressive","c":"CS","y":4400,"w":0.09},
{"k":"v","s":"BIL014","p":"[s]>[t(r)]","d":"regressive","c":"CS","y":4500,"w":0.085},
{"k":"v","s":"BIL014","p":"[s]>[t(r)]","d":"regressive","c":"CS","y":4580,"w":0.085},
{"k":"v","s":"BIL014","p":"[s]>[t(r)]","d":"regressive","c":"CS","y":4626,"w":0.07},
{"k":"v","s":"BIL016","p":"[ʃ]","d":"NA","c":"non-CS","y":3990,"w":0.38},
{"k":"v","s":"BIL016","p":"[ʃ]","d":"NA","c":"non-CS","y":4000,"w":0.4},
{"k":"v","s":"BIL016","p":"[ʃ]","d":"NA","c":"non-CS","y":4013,"w":0.38},
{"k":"v","s":"BIL016","p":"[ʃ]","d":"NA","c":"non-CS","y":4036,"w":0.34},
{"k":"v","s":"BIL016","p":"[ʃ]","d":"NA","c":"non-CS","y":4059,"w":0.3},
{"k":"v","s":"BIL016","p":"[ʃ]","d":"NA","c":"non-CS","y":4075,"w":0.27},
{"k":"v","s":"BIL016","p":"[ʃ]","d":"NA","c":"non-CS","y":4086,"w":0.26},
{"k":"v","s":"BIL016","p":"[s]","d":"NA","c":"non-CS","y":4270,"w":0.09},
{"k":"v","s":"BIL016","p":"[s]","d":"NA","c":"non-CS","y":4280,"w":0.06},
{"k":"v","s":"BIL016","p":"[s]","d":"NA","c":"non-CS","y":4295,"w":0.02},
{"k":"v","s":"BIL016","p":"[s]","d":"NA","c":"non-CS","y":4310,"w":0.01},
{"k":"v","s":"BIL016","p":"[s]","d":"NA","c":"non-CS","y":4325,"w":0.04},
{"k":"v","s":"BIL016","p":"[s]","d":"NA","c":"non-CS","y":4342,"w":0.1},
{"k":"v","s":"BIL016","p":"[s]","d":"NA","c":"non-CS","y":4360,"w":0.16},
{"k":"v","s":"BIL016","p":"[s]","d":"NA","c":"non-CS","y":4372,"w":0.18},
{"k":"v","s":"BIL016","p":"[s]","d":"NA","c":"non-CS","y":4385,"w":0.15},
{"k":"v","s":"BIL016","p":"[s]","d":"NA","c":"non-CS","y":4400,"w":0.13},
{"k":"v","s":"BIL016","p":"[s]","d":"NA","c":"non-CS","y":4415,"w":0.2},
{"k":"v","s":"BIL016","p":"[s]","d":"NA","c":"non-CS","y":4430,"w":0.35},
{"k":"v","s":"BIL016","p":"[s]","d":"NA","c":"non-CS","y":4442,"w":0.45},
{"k":"v","s":"BIL016","p":"[s]","d":"NA","c":"non-CS","y":4455,"w":0.35},
{"k":"v","s":"BIL016","p":"[s]","d":"NA","c":"non-CS","y":4468,"w":0.22},
{"k":"v","s":"BIL016","p":"[s]","d":"NA","c":"non-CS","y":4480,"w":0.2},
{"k":"v","s":"BIL016","p":"[s]","d":"NA","c":"non-CS","y":4495,"w":0.22},
{"k":"v","s":"BIL016","p":"[s]","d":"NA","c":"non-CS","y":4510,"w":0.25},
{"k":"v","s":"BIL016","p":"[s]","d":"NA","c":"non-CS","y":4518,"w":0.25},
{"k":"v","s":"BIL016","p":"[s]>[t(r)]","d":"progressive","c":"CS","y":3972,"w":0.03},
{"k":"v","s":"BIL016","p":"[s]>[t(r)]","d":"progressive","c":"CS","y":4000,"w":0.05},
{"k":"v","s":"BIL016","p":"[s]>[t(r)]","d":"progressive","c":"CS","y":4050,"w":0.085},
{"k":"v","s":"BIL016","p":"[s]>[t(r)]","d":"progressive","c":"CS","y":4090,"w":0.09},
{"k":"v","s":"BIL016","p":"[s]>[t(r)]","d":"progressive","c":"CS","y":4150,"w":0.065},
{"k":"v","s":"BIL016","p":"[s]>[t(r)]","d":"progressive","c":"CS","y":4220,"w":0.04},
{"k":"v","s":"BIL016","p":"[s]>[t(r)]","d":"progressive","c":"CS","y":4300,"w":0.02},
{"k":"v","s":"BIL016","p":"[s]>[t(r)]","d":"progressive","c":"CS","y":4342,"w":0.02},
{"k":"v","s":"BIL016","p":"[s]>[t(r)]","d":"regressive","c":"CS","y":3970,"w":0.03},
{"k":"v","s":"BIL016","p":"[s]>[t(r)]","d":"regressive","c":"CS","y":4050,"w":0.035},
{"k":"v","s":"BIL016","p":"[s]>[t(r)]","d":"regressive","c":"CS","y":4120,"w":0.045},
{"k":"v","s":"BIL016","p":"[s]>[t(r)]","d":"regressive","c":"CS","y":4200,"w":0.075},
{"k":"v","s":"BIL016","p":"[s]>[t(r)]","d":"regressive","c":"CS","y":4240,"w":0.09},
{"k":"v","s":"BIL016","p":"[s]>[t(r)]","d":"regressive","c":"CS","y":4280,"w":0.085},
{"k":"v","s":"BIL016","p":"[s]>[t(r)]","d":"regressive","c":"CS","y":4299,"w":0.06},
{"k":"v","s":"BIL018","p":"[ʃ]","d":"NA","c":"non-CS","y":4192,"w":0.42},
{"k":"v","s":"BIL018","p":"[ʃ]","d":"NA","c":"non-CS","y":4200,"w":0.44},
{"k":"v","s":"BIL018","p":"[ʃ]","d":"NA","c":"non-CS","y":4212,"w":0.44},
{"k":"v","s":"BIL018","p":"[ʃ]","d":"NA","c":"non-CS","y":4225,"w":0.35},
{"k":"v","s":"BIL018","p":"[ʃ]","d":"NA","c":"non-CS","y":4235,"w":0.28},
{"k":"v","s":"BIL018","p":"[ʃ]","d":"NA","c":"non-CS","y":4245,"w":0.25},
{"k":"v","s":"BIL018","p":"[s]","d":"NA","c":"non-CS","y":4403,"w":0.04},
{"k":"v","s":"BIL018","p":"[s]","d":"NA","c":"non-CS","y":4450,"w":0.06},
{"k":"v","s":"BIL018","p":"[s]","d":"NA","c":"non-CS","y":4500,"w":0.08},
{"k":"v","s":"BIL018","p":"[s]","d":"NA","c":"non-CS","y":4560,"w":0.1},
{"k":"v","s":"BIL018","p":"[s]","d":"NA","c":"non-CS","y":4610,"w":0.11},
{"k":"v","s":"BIL018","p":"[s]","d":"NA","c":"non-CS","y":4638,"w":0.11},
{"k":"v","s":"BIL018","p":"[s]>[t(r)]","d":"progressive","c":"CS","y":4226,"w":0.02},
{"k":"v","s":"BIL018","p":"[s]>[t(r)]","d":"progressive","c":"CS","y":4300,"w":0.03},
{"k":"v","s":"BIL018","p":"[s]>[t(r)]","d":"progressive","c":"CS","y":4400,"w":0.035},
{"k":"v","s":"BIL018","p":"[s]>[t(r)]","d":"progressive","c":"CS","y":4500,"w":0.035},
{"k":"v","s":"BIL018","p":"[s]>[t(r)]","d":"progressive","c":"CS","y":4593,"w":0.025},
{"k":"v","s":"BIL018","p":"[s]>[t(r)]","d":"regressive","c":"CS","y":4249,"w":0.02},
{"k":"v","s":"BIL018","p":"[s]>[t(r)]","d":"regressive","c":"CS","y":4300,"w":0.04},
{"k":"v","s":"BIL018","p":"[s]>[t(r)]","d":"regressive","c":"CS","y":4370,"w":0.065},
{"k":"v","s":"BIL018","p":"[s]>[t(r)]","d":"regressive","c":"CS","y":4420,"w":0.05},
{"k":"v","s":"BIL018","p":"[s]>[t(r)]","d":"regressive","c":"CS","y":4470,"w":0.03},
{"k":"v","s":"BIL018","p":"[s]>[t(r)]","d":"regressive","c":"CS","y":4494,"w":0.02},
{"k":"v","s":"BIL019","p":"[ʃ]","d":"NA","c":"non-CS","y":4231,"w":0.235},
{"k":"v","s":"BIL019","p":"[ʃ]","d":"NA","c":"non-CS","y":4250,"w":0.27},
{"k":"v","s":"BIL019","p":"[ʃ]","d":"NA","c":"non-CS","y":4266,"w":0.3},
{"k":"v","s":"BIL019","p":"[ʃ]","d":"NA","c":"non-CS","y":4296,"w":0.32},
{"k":"v","s":"BIL019","p":"[ʃ]","d":"NA","c":"non-CS","y":4327,"w":0.28},
{"k":"v","s":"BIL019","p":"[ʃ]","d":"NA","c":"non-CS","y":4358,"w":0.22},
{"k":"v","s":"BIL019","p":"[ʃ]","d":"NA","c":"non-CS","y":4388,"w":0.2},
{"k":"v","s":"BIL019","p":"[ʃ]","d":"NA","c":"non-CS","y":4413,"w":0.19},
{"k":"v","s":"BIL019","p":"[s]","d":"NA","c":"non-CS","y":4440,"w":0.15},
{"k":"v","s":"BIL019","p":"[s]","d":"NA","c":"non-CS","y":4470,"w":0.15},
{"k":"v","s":"BIL019","p":"[s]","d":"NA","c":"non-CS","y":4487,"w":0.16},
{"k":"v","s":"BIL019","p":"[s]","d":"NA","c":"non-CS","y":4510,"w":0.25},
{"k":"v","s":"BIL019","p":"[s]","d":"NA","c":"non-CS","y":4541,"w":0.38},
{"k":"v","s":"BIL019","p":"[s]","d":"NA","c":"non-CS","y":4572,"w":0.45},
{"k":"v","s":"BIL019","p":"[s]","d":"NA","c":"non-CS","y":4602,"w":0.35},
{"k":"v","s":"BIL019","p":"[s]","d":"NA","c":"non-CS","y":4633,"w":0.23},
{"k":"v","s":"BIL019","p":"[s]","d":"NA","c":"non-CS","y":4650,"w":0.15},
{"k":"v","s":"BIL019","p":"[s]","d":"NA","c":"non-CS","y":4660,"w":0.115},
{"k":"v","s":"BIL019","p":"[s]>[t(r)]","d":"progressive","c":"CS","y":4277,"w":0.05},
{"k":"v","s":"BIL019","p":"[s]>[t(r)]","d":"progressive","c":"CS","y":4320,"w":0.06},
{"k":"v","s":"BIL019","p":"[s]>[t(r)]","d":"progressive","c":"CS","y":4400,"w":0.07},
{"k":"v","s":"BIL019","p":"[s]>[t(r)]","d":"progressive","c":"CS","y":4450,"w":0.08},
{"k":"v","s":"BIL019","p":"[s]>[t(r)]","d":"progressive","c":"CS","y":4500,"w":0.1},
{"k":"v","s":"BIL019","p":"[s]>[t(r)]","d":"progressive","c":"CS","y":4550,"w":0.11},
{"k":"v","s":"BIL019","p":"[s]>[t(r)]","d":"progressive","c":"CS","y":4583,"w":0.105},
{"k":"v","s":"BIL019","p":"[s]>[t(r)]","d":"regressive","c":"CS","y":4344,"w":0.11},
{"k":"v","s":"BIL019","p":"[s]>[t(r)]","d":"regressive","c":"CS","y":4370,"w":0.13},
{"k":"v","s":"BIL019","p":"[s]>[t(r)]","d":"regressive","c":"CS","y":4400,"w":0.16},
{"k":"v","s":"BIL019","p":"[s]>[t(r)]","d":"regressive","c":"CS","y":4434,"w":0.18},
{"k":"v","s":"BIL019","p":"[s]>[t(r)]","d":"regressive","c":"CS","y":4470,"w":0.14},
{"k":"v","s":"BIL019","p":"[s]>[t(r)]","d":"regressive","c":"CS","y":4495,"w":0.11},
{"k":"v","s":"BIL019","p":"[s]>[t(r)]","d":"regressive","c":"CS","y":4507,"w":0.105},
{"k":"v","s":"BIL028","p":"[ʃ]","d":"NA","c":"non-CS","y":4278,"w":0.42},
{"k":"v","s":"BIL028","p":"[ʃ]","d":"NA","c":"non-CS","y":4285,"w":0.44},
{"k":"v","s":"BIL028","p":"[ʃ]","d":"NA","c":"non-CS","y":4293,"w":0.4},
{"k":"v","s":"BIL028","p":"[ʃ]","d":"NA","c":"non-CS","y":4305,"w":0.3},
{"k":"v","s":"BIL028","p":"[ʃ]","d":"NA","c":"non-CS","y":4318,"w":0.17},
{"k":"v","s":"BIL028","p":"[ʃ]","d":"NA","c":"non-CS","y":4330,"w":0.09},
{"k":"v","s":"BIL028","p":"[ʃ]","d":"NA","c":"non-CS","y":4345,"w":0.07},
{"k":"v","s":"BIL028","p":"[ʃ]","d":"NA","c":"non-CS","y":4360,"w":0.1},
{"k":"v","s":"BIL028","p":"[ʃ]","d":"NA","c":"non-CS","y":4372,"w":0.17},
{"k":"v","s":"BIL028","p":"[ʃ]","d":"NA","c":"non-CS","y":4382,"w":0.17},
{"k":"v","s":"BIL028","p":"[s]","d":"NA","c":"non-CS","y":4467,"w":0.085},
{"k":"v","s":"BIL028","p":"[s]","d":"NA","c":"non-CS","y":4495,"w":0.1},
{"k":"v","s":"BIL028","p":"[s]","d":"NA","c":"non-CS","y":4520,"w":0.13},
{"k":"v","s":"BIL028","p":"[s]","d":"NA","c":"non-CS","y":4541,"w":0.16},
{"k":"v","s":"BIL028","p":"[s]","d":"NA","c":"non-CS","y":4572,"w":0.2},
{"k":"v","s":"BIL028","p":"[s]","d":"NA","c":"non-CS","y":4602,"w":0.21},
{"k":"v","s":"BIL028","p":"[s]","d":"NA","c":"non-CS","y":4630,"w":0.18},
{"k":"v","s":"BIL028","p":"[s]","d":"NA","c":"non-CS","y":4647,"w":0.155},
{"k":"v","s":"BIL028","p":"[s]>[t(r)]","d":"progressive","c":"CS","y":4120,"w":0.025},
{"k":"v","s":"BIL028","p":"[s]>[t(r)]","d":"progressive","c":"CS","y":4300,"w":0.025},
{"k":"v","s":"BIL028","p":"[s]>[t(r)]","d":"progressive","c":"CS","y":4500,"w":0.025},
{"k":"v","s":"BIL028","p":"[s]>[t(r)]","d":"progressive","c":"CS","y":4633,"w":0.025},
{"k":"v","s":"BIL028","p":"[s]>[t(r)]","d":"regressive","c":"CS","y":4397,"w":0.02},
{"k":"v","s":"BIL028","p":"[s]>[t(r)]","d":"regressive","c":"CS","y":4430,"w":0.04},
{"k":"v","s":"BIL028","p":"[s]>[t(r)]","d":"regressive","c":"CS","y":4450,"w":0.05},
{"k":"v","s":"BIL028","p":"[s]>[t(r)]","d":"regressive","c":"CS","y":4480,"w":0.07},
{"k":"v","s":"BIL028","p":"[s]>[t(r)]","d":"regressive","c":"CS","y":4518,"w":0.12},
{"k":"v","s":"BIL028","p":"[s]>[t(r)]","d":"regressive","c":"CS","y":4560,"w":0.09},
{"k":"v","s":"BIL028","p":"[s]>[t(r)]","d":"regressive","c":"CS","y":4600,"w":0.06},
{"k":"v","s":"BIL028","p":"[s]>[t(r)]","d":"regressive","c":"CS","y":4614,"w":0.05},
{"k":"v","s":"BIL030","p":"[ʃ]","d":"NA","c":"non-CS","y":4127,"w":0.28},
{"k":"v","s":"BIL030","p":"[ʃ]","d":"NA","c":"non-CS","y":4140,"w":0.33},
{"k":"v","s":"BIL030","p":"[ʃ]","d":"NA","c":"non-CS","y":4154,"w":0.39},
{"k":"v","s":"BIL030","p":"[ʃ]","d":"NA","c":"non-CS","y":4170,"w":0.44},
{"k":"v","s":"BIL030","p":"[ʃ]","d":"NA","c":"non-CS","y":4181,"w":0.455},
{"k":"v","s":"BIL030","p":"[ʃ]","d":"NA","c":"non-CS","y":4195,"w":0.42},
{"k":"v","s":"BIL030","p":"[ʃ]","d":"NA","c":"non-CS","y":4208,"w":0.33},
{"k":"v","s":"BIL030","p":"[ʃ]","d":"NA","c":"non-CS","y":4225,"w":0.2},
{"k":"v","s":"BIL030","p":"[ʃ]","d":"NA","c":"non-CS","y":4242,"w":0.1},
{"k":"v","s":"BIL030","p":"[ʃ]","d":"NA","c":"non-CS","y":4255,"w":0.05},
{"k":"v","s":"BIL030","p":"[ʃ]","d":"NA","c":"non-CS","y":4265,"w":0.03},
{"k":"v","s":"BIL030","p":"[ʃ]","d":"NA","c":"non-CS","y":4275,"w":0.05},
{"k":"v","s":"BIL030","p":"[ʃ]","d":"NA","c":"non-CS","y":4290,"w":0.13},
{"k":"v","s":"BIL030","p":"[ʃ]","d":"NA","c":"non-CS","y":4310,"w":0.2},
{"k":"v","s":"BIL030","p":"[ʃ]","d":"NA","c":"non-CS","y":4325,"w":0.22},
{"k":"v","s":"BIL030","p":"[ʃ]","d":"NA","c":"non-CS","y":4332,"w":0.215},
{"k":"v","s":"BIL030","p":"[s]","d":"NA","c":"non-CS","y":4450,"w":0.14},
{"k":"v","s":"BIL030","p":"[s]","d":"NA","c":"non-CS","y":4465,"w":0.15},
{"k":"v","s":"BIL030","p":"[s]","d":"NA","c":"non-CS","y":4485,"w":0.17},
{"k":"v","s":"BIL030","p":"[s]","d":"NA","c":"non-CS","y":4515,"w":0.19},
{"k":"v","s":"BIL030","p":"[s]","d":"NA","c":"non-CS","y":4530,"w":0.22},
{"k":"v","s":"BIL030","p":"[s]","d":"NA","c":"non-CS","y":4546,"w":0.25},
{"k":"v","s":"BIL030","p":"[s]","d":"NA","c":"non-CS","y":4570,"w":0.28},
{"k":"v","s":"BIL030","p":"[s]","d":"NA","c":"non-CS","y":4600,"w":0.28},
{"k":"v","s":"BIL030","p":"[s]","d":"NA","c":"non-CS","y":4631,"w":0.25},
{"k":"v","s":"BIL030","p":"[s]","d":"NA","c":"non-CS","y":4662,"w":0.21},
{"k":"v","s":"BIL030","p":"[s]","d":"NA","c":"non-CS","y":4692,"w":0.15},
{"k":"v","s":"BIL030","p":"[s]","d":"NA","c":"non-CS","y":4723,"w":0.09},
{"k":"v","s":"BIL030","p":"[s]","d":"NA","c":"non-CS","y":4745,"w":0.075},
{"k":"v","s":"BIL030","p":"[s]","d":"NA","c":"non-CS","y":4758,"w":0.07},
{"k":"v","s":"BIL030","p":"[s]>[t(r)]","d":"progressive","c":"CS","y":4196,"w":0.045},
{"k":"v","s":"BIL030","p":"[s]>[t(r)]","d":"progressive","c":"CS","y":4250,"w":0.055},
{"k":"v","s":"BIL030","p":"[s]>[t(r)]","d":"progressive","c":"CS","y":4350,"w":0.06},
{"k":"v","s":"BIL030","p":"[s]>[t(r)]","d":"progressive","c":"CS","y":4450,"w":0.065},
{"k":"v","s":"BIL030","p":"[s]>[t(r)]","d":"progressive","c":"CS","y":4550,"w":0.06},
{"k":"v","s":"BIL030","p":"[s]>[t(r)]","d":"progressive","c":"CS","y":4610,"w":0.055},
{"k":"v","s":"BIL030","p":"[s]>[t(r)]","d":"progressive","c":"CS","y":4628,"w":0.045},
{"k":"v","s":"BIL030","p":"[s]>[t(r)]","d":"regressive","c":"CS","y":4435,"w":0.12},
{"k":"v","s":"BIL030","p":"[s]>[t(r)]","d":"regressive","c":"CS","y":4460,"w":0.13},
{"k":"v","s":"BIL030","p":"[s]>[t(r)]","d":"regressive","c":"CS","y":4500,"w":0.13},
{"k":"v","s":"BIL030","p":"[s]>[t(r)]","d":"regressive","c":"CS","y":4530,"w":0.14},
{"k":"v","s":"BIL030","p":"[s]>[t(r)]","d":"regressive","c":"CS","y":4562,"w":0.165},
{"k":"v","s":"BIL030","p":"[s]>[t(r)]","d":"regressive","c":"CS","y":4590,"w":0.14},
{"k":"v","s":"BIL030","p":"[s]>[t(r)]","d":"regressive","c":"CS","y":4620,"w":0.1},
{"k":"v","s":"BIL030","p":"[s]>[t(r)]","d":"regressive","c":"CS","y":4642,"w":0.06}
]},
"vconcat":[{
"title":{"text":"M1 [Hz]","orient":"left","anchor":"middle","fontSize":60,"fontWeight":"normal","color":"black","offset":12,"dx":-75},
"vconcat":[{
"title":{"text":"[ʃ] - [s]","anchor":"start","frame":"group","fontSize":55,"fontWeight":"normal","color":"black","offset":21},
"facet":{"field":"s","type":"nominal","sort":["BIL029","BIL032","BIL003","BIL005","BIL006","BIL008","BIL010","BIL014","BIL016","BIL018","BIL019","BIL028","BIL030"],"header":{"labels":false,"labelExpr":"''","labelFontSize":1,"labelPadding":0,"title":null},"title":null},
"columns":4,
"spacing":23,
"bounds":"flush",
"spec":{
"width":690,"height":516,
"layer":[
{"transform":[{"filter":"datum.k=='strip'"}],"mark":{"type":"rule","color":"white","strokeWidth":2.2},
 "encoding":{"y":{"datum":4100,"type":"quantitative","scale":{"domain":[3929,5119],"nice":false,"zero":false},"title":null},"x":{"datum":0.4,"type":"quantitative","scale":{"domain":[0.4,3.6],"nice":false,"zero":false},"title":null},"x2":{"datum":3.6}}},
{"transform":[{"filter":"datum.k=='strip'"}],"mark":{"type":"rule","color":"white","strokeWidth":2.2},
 "encoding":{"y":{"datum":4300,"type":"quantitative","scale":{"domain":[3929,5119],"nice":false,"zero":false},"title":null},"x":{"datum":0.4,"type":"quantitative","scale":{"domain":[0.4,3.6],"nice":false,"zero":false},"title":null},"x2":{"datum":3.6}}},
{"transform":[{"filter":"datum.k=='strip'"}],"mark":{"type":"rule","color":"white","strokeWidth":2.2},
 "encoding":{"y":{"datum":4500,"type":"quantitative","scale":{"domain":[3929,5119],"nice":false,"zero":false},"title":null},"x":{"datum":0.4,"type":"quantitative","scale":{"domain":[0.4,3.6],"nice":false,"zero":false},"title":null},"x2":{"datum":3.6}}},
{"transform":[{"filter":"datum.k=='strip'"}],"mark":{"type":"rule","color":"white","strokeWidth":2.2},
 "encoding":{"y":{"datum":4700,"type":"quantitative","scale":{"domain":[3929,5119],"nice":false,"zero":false},"title":null},"x":{"datum":0.4,"type":"quantitative","scale":{"domain":[0.4,3.6],"nice":false,"zero":false},"title":null},"x2":{"datum":3.6}}},
{"transform":[{"filter":"datum.k=='v' && datum.d=='NA'"},
  {"calculate":"datum.p=='[ʃ]'?1:2","as":"cx"},
  {"calculate":"datum.cx-datum.w","as":"xl"},
  {"calculate":"datum.cx+datum.w","as":"xr"}],
 "mark":{"type":"area","orient":"horizontal","fill":"white","strokeWidth":4.8,"interpolate":"monotone","strokeJoin":"round"},
 "encoding":{
  "y":{"field":"y","type":"quantitative","scale":{"domain":[3929,5119],"nice":false,"zero":false},"title":null,"axis":{"values":[4000,4200,4400,4600],"format":"d"}},
  "x":{"field":"xl","type":"quantitative","scale":{"domain":[0.4,3.6],"nice":false,"zero":false},"title":null,"axis":{"values":[1,2,3],"labels":false,"ticks":false}},
  "x2":{"field":"xr"},
  "detail":{"field":"p"},
  "stroke":{"field":"d","type":"nominal","scale":{"domain":["progressive","regressive","NA"],"range":["#F8766D","#00BFC4","#7F7F7F"]},"legend":{"title":["Direction of","L2-induced","influence"],"legendX":2899,"legendY":1083}}
 }},
{"transform":[{"filter":"datum.k=='v' && datum.d!='NA'"},
  {"calculate":"datum.d=='progressive'?2.775:3.225","as":"cx"},
  {"calculate":"datum.cx-datum.w","as":"xl"},
  {"calculate":"datum.cx+datum.w","as":"xr"}],
 "mark":{"type":"area","orient":"horizontal","fill":"white","interpolate":"linear"},
 "encoding":{
  "y":{"field":"y","type":"quantitative","scale":{"domain":[3929,5119],"nice":false,"zero":false},"title":null},
  "x":{"field":"xl","type":"quantitative","scale":{"domain":[0.4,3.6],"nice":false,"zero":false},"title":null},
  "x2":{"field":"xr"},
  "detail":{"field":"d"}
 }},
{"transform":[{"filter":"datum.k=='v' && datum.d!='NA'"},
  {"calculate":"datum.d=='progressive'?2.775:3.225","as":"cx"},
  {"calculate":"datum.cx-datum.w","as":"xl"},
  {"calculate":"datum.cx+datum.w","as":"xr"},
  {"fold":["xl","xr"],"as":["side","xv"]},
  {"calculate":"datum.side=='xl'?datum.y:20000-datum.y","as":"o"}],
 "mark":{"type":"line","interpolate":"linear-closed","strokeWidth":4.8,"strokeJoin":"round"},
 "encoding":{
  "y":{"field":"y","type":"quantitative","scale":{"domain":[3929,5119],"nice":false,"zero":false},"title":null},
  "x":{"field":"xv","type":"quantitative","scale":{"domain":[0.4,3.6],"nice":false,"zero":false},"title":null},
  "order":{"field":"o","type":"quantitative"},
  "stroke":{"field":"d","type":"nominal","scale":{"domain":["progressive","regressive","NA"],"range":["#F8766D","#00BFC4","#7F7F7F"]},"legend":{"title":["Direction of","L2-induced","influence"],"legendX":2899,"legendY":1083}},
  "strokeDash":{"field":"c","type":"nominal","scale":{"domain":["non-CS","CS"],"range":[[1,0],[11,9]]},"legend":{"title":"Context","legendX":2899,"legendY":759}}
 }},
{"transform":[{"filter":"datum.k=='strip'"}],"mark":{"type":"rect","fill":"#D9D9D9"},
 "encoding":{"x":{"datum":0.4,"type":"quantitative","scale":{"domain":[0.4,3.6],"nice":false,"zero":false},"title":null},"x2":{"datum":3.6},"y":{"datum":4793,"type":"quantitative","scale":{"domain":[3929,5119],"nice":false,"zero":false},"title":null},"y2":{"datum":5119}}},
{"transform":[{"filter":"datum.k=='strip'"}],"mark":{"type":"text","fontSize":38,"color":"#1A1A1A","baseline":"middle","align":"center"},
 "encoding":{"x":{"datum":2,"type":"quantitative","scale":{"domain":[0.4,3.6],"nice":false,"zero":false},"title":null},"y":{"datum":5033,"type":"quantitative","scale":{"domain":[3929,5119],"nice":false,"zero":false},"title":null},"text":{"field":"g"}}},
{"transform":[{"filter":"datum.k=='strip'"}],"mark":{"type":"text","fontSize":38,"color":"#1A1A1A","baseline":"middle","align":"center"},
 "encoding":{"x":{"datum":2,"type":"quantitative","scale":{"domain":[0.4,3.6],"nice":false,"zero":false},"title":null},"y":{"datum":4869,"type":"quantitative","scale":{"domain":[3929,5119],"nice":false,"zero":false},"title":null},"text":{"field":"s"}}},
{"transform":[{"filter":"datum.k=='ax'"}],"mark":{"type":"rule","color":"#333333","strokeWidth":4},
 "encoding":{"x":{"field":"t","type":"quantitative","scale":{"domain":[0.4,3.6],"nice":false,"zero":false},"title":null},"y":{"datum":3929,"type":"quantitative","scale":{"domain":[3929,5119],"nice":false,"zero":false},"title":null},"y2":{"datum":3890}}},
{"transform":[{"filter":"datum.k=='ax'"}],"mark":{"type":"text","fontSize":57,"color":"#4D4D4D","baseline":"middle","align":"center"},
 "encoding":{"x":{"field":"t","type":"quantitative","scale":{"domain":[0.4,3.6],"nice":false,"zero":false},"title":null},"y":{"datum":3830,"type":"quantitative","scale":{"domain":[3929,5119],"nice":false,"zero":false},"title":null},"text":{"field":"lab"}}}
]}}]}],
"config":{
 "font":"Liberation Sans",
 "view":{"fill":"#EBEBEB","stroke":null},
 "axis":{"domain":false,"grid":true,"gridColor":"white","gridWidth":4.3,"tickColor":"#333333","tickWidth":4,"tickSize":17,"labelColor":"#4D4D4D","labelFontSize":57,"labelPadding":6,"labelLimit":1000,"titleFontSize":60,"titleFontWeight":"normal","titleColor":"black"},
 "legend":{"orient":"none","titleFontSize":62,"titleFontWeight":"normal","titleColor":"black","labelFontSize":58,"labelColor":"black","labelLimit":1000,"symbolType":"square","symbolSize":4624,"symbolStrokeWidth":4,"symbolFillColor":"white","symbolBaseStrokeColor":"#333333","symbolBaseFillColor":"white","labelOffset":30,"titlePadding":24,"rowPadding":-30,"titleLineHeight":68,"titleLimit":1000},
 "title":{"font":"Liberation Sans"}
}
}
